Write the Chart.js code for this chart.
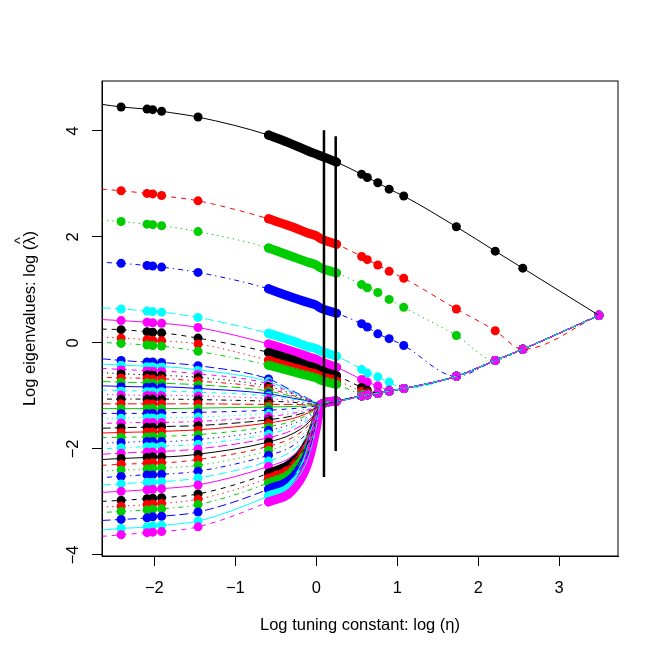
<!DOCTYPE html>
<html>
<head>
<meta charset="utf-8">
<script src="https://cdn.jsdelivr.net/npm/chart.js@4/dist/chart.umd.min.js"></script>
<style>
  html, body { margin: 0; padding: 0; background: #fff; }
  #wrap { width: 660px; height: 659px; }
</style>
</head>
<body>
<div id="wrap"><canvas id="eigChart" width="660" height="659"></canvas></div>
<script>
// log tuning constant positions (left part shared by every curve, right part = pooled path)
const leftX = [-2.65, -2.41, -2.09, -2.02, -1.91, -1.46, -0.59, -0.3, -0.1, 0, 0.05];
const poolX = [0.25, 0.56, 0.63, 0.76, 0.9, 1.08, 1.73, 2.21, 2.55, 3.49];
const pooled = [-1.10, -1.00, -0.98, -0.95, -0.91, -0.86, -0.63, -0.33, -0.12, 0.52];

// log eigenvalues, largest first; a curve joins the pooled path where its list stops
const lam01 = [4.50, 4.45, 4.41, 4.40, 4.37, 4.26, 3.92, 3.75, 3.62, 3.56, 3.53, 3.41, 3.18, 3.12, 3.02, 2.90, 2.77, 2.19, 1.73, 1.41, 0.52];
const lam02 = [2.90, 2.87, 2.82, 2.81, 2.78, 2.68, 2.34, 2.19, 2.07, 2.02, 1.97, 1.86, 1.63, 1.57, 1.47, 1.35, 1.22, 0.64, 0.23];
const lam03 = [2.31, 2.29, 2.24, 2.23, 2.21, 2.10, 1.79, 1.63, 1.52, 1.47, 1.42, 1.32, 1.10, 1.04, 0.95, 0.82, 0.67, 0.14];
const lam04 = [1.52, 1.50, 1.46, 1.45, 1.43, 1.33, 1.02, 0.86, 0.76, 0.71, 0.66, 0.56, 0.36, 0.30, 0.17, 0.08, -0.05];
const lam05 = [0.66, 0.64, 0.60, 0.59, 0.58, 0.48, 0.18, 0.04, -0.07, -0.11, -0.15, -0.25, -0.50, -0.57, -0.64, -0.74];
const lam06 = [0.44, 0.42, 0.39, 0.38, 0.37, 0.29, -0.02, -0.16, -0.26, -0.31, -0.35, -0.46, -0.69, -0.74, -0.81, -0.89];
const lam07 = [0.26, 0.25, 0.21, 0.20, 0.19, 0.09, -0.18, -0.32, -0.43, -0.48, -0.52, -0.62, -0.84, -0.89];
const lam08 = [0.11, 0.09, 0.06, 0.05, 0.04, -0.02, -0.33, -0.46, -0.55, -0.59, -0.63, -0.71, -0.91, -0.94];
const lam09 = [0.01, -0.01, -0.04, -0.05, -0.06, -0.16, -0.42, -0.54, -0.62, -0.66, -0.70, -0.78, -0.97];
const lam10 = [-0.30, -0.33, -0.36, -0.36, -0.37, -0.43, -0.68, -0.90, -1.05, -1.13, -1.17];
const lam11 = [-0.40, -0.42, -0.44, -0.45, -0.45, -0.51, -0.73, -0.92, -1.06, -1.13, -1.17];
const lam12 = [-0.48, -0.50, -0.52, -0.52, -0.53, -0.58, -0.77, -0.94, -1.06, -1.13, -1.17];
const lam13 = [-0.56, -0.58, -0.60, -0.60, -0.61, -0.65, -0.82, -0.96, -1.07, -1.13, -1.17];
const lam14 = [-0.65, -0.66, -0.67, -0.68, -0.68, -0.72, -0.86, -0.99, -1.08, -1.14, -1.17];
const lam15 = [-0.73, -0.74, -0.75, -0.75, -0.76, -0.79, -0.91, -1.01, -1.09, -1.14, -1.17];
const lam16 = [-0.81, -0.82, -0.83, -0.83, -0.83, -0.86, -0.96, -1.04, -1.10, -1.14, -1.17];
const lam17 = [-0.89, -0.90, -0.91, -0.91, -0.91, -0.93, -1.00, -1.06, -1.11, -1.15, -1.17];
const lam18 = [-0.97, -0.98, -0.99, -0.99, -0.99, -1.00, -1.05, -1.09, -1.13, -1.15, -1.17];
const lam19 = [-1.06, -1.06, -1.06, -1.06, -1.06, -1.07, -1.10, -1.12, -1.15, -1.16, -1.17];
const lam20 = [-1.15, -1.15, -1.15, -1.15, -1.15, -1.15, -1.16, -1.16, -1.17, -1.17, -1.17];
const lam21 = [-1.24, -1.24, -1.24, -1.24, -1.24, -1.23, -1.21, -1.20, -1.19, -1.18, -1.17];
const lam22 = [-1.33, -1.33, -1.33, -1.33, -1.32, -1.31, -1.27, -1.24, -1.21, -1.19, -1.17];
const lam23 = [-1.43, -1.42, -1.41, -1.41, -1.41, -1.40, -1.33, -1.29, -1.24, -1.20, -1.17];
const lam24 = [-1.52, -1.51, -1.50, -1.50, -1.50, -1.48, -1.39, -1.33, -1.26, -1.21, -1.17];
const lam25 = [-1.61, -1.60, -1.59, -1.59, -1.58, -1.56, -1.45, -1.38, -1.29, -1.22, -1.17];
const lam26 = [-1.70, -1.69, -1.68, -1.68, -1.67, -1.64, -1.51, -1.43, -1.32, -1.23, -1.17];
const lam27 = [-1.79, -1.78, -1.77, -1.76, -1.76, -1.73, -1.58, -1.48, -1.35, -1.24, -1.17];
const lam28 = [-1.89, -1.88, -1.86, -1.86, -1.86, -1.82, -1.65, -1.53, -1.39, -1.26, -1.17];
const lam29 = [-2.00, -1.98, -1.96, -1.96, -1.95, -1.91, -1.72, -1.59, -1.43, -1.27, -1.17];
const lam30 = [-2.10, -2.08, -2.06, -2.06, -2.05, -2.00, -1.79, -1.65, -1.47, -1.29, -1.17];
const lam31 = [-2.20, -2.18, -2.16, -2.15, -2.15, -2.10, -1.87, -1.72, -1.51, -1.31, -1.17];
const lam32 = [-2.31, -2.29, -2.27, -2.26, -2.26, -2.20, -1.95, -1.79, -1.56, -1.33, -1.17];
const lam33 = [-2.42, -2.40, -2.38, -2.37, -2.36, -2.31, -2.03, -1.86, -1.61, -1.35, -1.17];
const lam34 = [-2.54, -2.52, -2.49, -2.49, -2.48, -2.42, -2.12, -1.95, -1.66, -1.37, -1.17];
const lam35 = [-2.68, -2.66, -2.63, -2.63, -2.62, -2.55, -2.23, -2.04, -1.73, -1.40, -1.17];
const lam36 = [-2.82, -2.80, -2.77, -2.76, -2.75, -2.68, -2.33, -2.14, -1.80, -1.42, -1.17];
const lam37 = [-2.99, -2.97, -2.94, -2.93, -2.92, -2.85, -2.46, -2.26, -1.88, -1.46, -1.17];
const lam38 = [-3.10, -3.08, -3.05, -3.04, -3.03, -2.95, -2.55, -2.35, -1.94, -1.48, -1.17];
const lam39 = [-3.20, -3.18, -3.15, -3.14, -3.13, -3.05, -2.64, -2.43, -2.00, -1.51, -1.17];
const lam40 = [-3.35, -3.33, -3.30, -3.28, -3.27, -3.19, -2.76, -2.55, -2.08, -1.54, -1.17];
const lam41 = [-3.53, -3.50, -3.47, -3.45, -3.44, -3.36, -2.89, -2.68, -2.17, -1.58, -1.17];
const lam42 = [-3.65, -3.62, -3.58, -3.57, -3.56, -3.47, -3.00, -2.79, -2.25, -1.61, -1.17];

const xTicks = [-2, -1, 0, 1, 2, 3];
const yTicks = [-4, -2, 0, 2, 4];

// the two vertical reference segments
const vlineX = [0.095, 0.24];
const vlineTop = [4.01, 3.90];
const vlineBottom = [-2.53, -2.04];

// curves whose dense run of points (-0.6 .. 0.25) shows as a thick band
const bandCurves = [1, 2, 3, 4, 5, 6, 7, 8, 9, 37, 38, 39, 40, 41, 42];

const curves = [lam01, lam02, lam03, lam04, lam05, lam06, lam07, lam08, lam09, lam10,
  lam11, lam12, lam13, lam14, lam15, lam16, lam17, lam18, lam19, lam20,
  lam21, lam22, lam23, lam24, lam25, lam26, lam27, lam28, lam29, lam30,
  lam31, lam32, lam33, lam34, lam35, lam36, lam37, lam38, lam39, lam40,
  lam41, lam42];

const palette = ["#000000", "#FF0000", "#00CD00", "#0000FF", "#00FFFF", "#FF00FF"];
const dashes = [[], [5, 5], [1.3, 4], [1.3, 4, 5, 4], [9, 4]];
const FONT = "'Liberation Sans', Arial, sans-serif";
const FONT_SIZE = 16.5;

const allX = leftX.concat(poolX);
const pointIdx = [1, 2, 3, 4, 5, 6, 11, 12, 13, 14, 15, 16, 17, 18, 19, 20];
const bandIdx = [6, 7, 8, 9, 10, 11];

function fmt(v) {
  return v < 0 ? "\u2212" + Math.abs(v) : String(v);
}

const markSets = [];
const lineSets = [];

curves.forEach((vals, i) => {
  const full = vals.concat(pooled.slice(vals.length - leftX.length));
  const pts = allX.map((x, k) => ({ x, y: full[k] }));
  const col = palette[i % 6];
  markSets.push({
    data: pointIdx.map((k) => pts[k]),
    showLine: false,
    pointRadius: 4.5,
    pointBackgroundColor: col,
    pointBorderWidth: 0,
  });
  if (bandCurves.includes(i + 1)) {
    markSets.push({
      data: bandIdx.map((k) => pts[k]),
      showLine: true,
      borderColor: col,
      borderWidth: 9,
      borderCapStyle: "round",
      borderJoinStyle: "round",
      pointRadius: 0,
      cubicInterpolationMode: "monotone",
    });
  }
  lineSets.push({
    data: pts,
    showLine: true,
    borderColor: col,
    borderWidth: 1,
    borderDash: dashes[i % 5],
    pointRadius: 0,
    cubicInterpolationMode: "monotone",
  });
});

const vlineSets = vlineX.map((x, i) => ({
  data: [{ x, y: vlineTop[i] }, { x, y: vlineBottom[i] }],
  showLine: true,
  borderColor: "#000",
  borderWidth: 2.5,
  pointRadius: 0,
}));

// later datasets get a lower order so they are painted on top
let seq = 0;
const datasets = markSets.concat(lineSets, vlineSets).map((d) => {
  seq += 1;
  return Object.assign(d, { order: -seq });
});

const yTitleParts = ["Log eigenvalues: log (", "\u03bb", ")"];

const framePlugin = {
  id: "frame",
  afterDraw(chart) {
    const { ctx, chartArea: a } = chart;
    ctx.save();
    ctx.strokeStyle = "#000";
    ctx.lineWidth = 1;
    ctx.strokeRect(a.left, a.top, a.right - a.left, a.bottom - a.top);

    // y title with a hat over lambda
    ctx.font = `${FONT_SIZE}px ${FONT}`;
    ctx.fillStyle = "#000";
    const widths = yTitleParts.map((p) => ctx.measureText(p).width);
    const total = widths.reduce((s, w) => s + w, 0);
    ctx.translate(30, (a.top + a.bottom) / 2);
    ctx.rotate(-Math.PI / 2);
    ctx.textBaseline = "middle";
    ctx.textAlign = "left";
    let u = -total / 2;
    ctx.fillText(yTitleParts.join(""), u, 0);
    u += widths[0] + widths[1] / 2;
    ctx.textAlign = "center";
    ctx.font = `${FONT_SIZE - 2}px ${FONT}`;
    ctx.fillText("^", u, -9);
    ctx.restore();
  },
};

new Chart(document.getElementById("eigChart"), {
  type: "scatter",
  data: { datasets },
  plugins: [framePlugin],
  options: {
    responsive: false,
    animation: false,
    events: [],
    layout: { padding: { left: 0, top: 81, right: 42, bottom: 0 } },
    plugins: { legend: { display: false }, tooltip: { enabled: false } },
    scales: {
      x: {
        type: "linear",
        min: -2.646,
        max: 3.726,
        afterBuildTicks: (s) => { s.ticks = xTicks.map((v) => ({ value: v })); },
        afterFit: (s) => { s.height = 103; },
        ticks: {
          callback: (v) => fmt(v),
          font: { family: FONT, size: FONT_SIZE },
          color: "#000",
          padding: 13,
          maxRotation: 0,
          autoSkip: false,
        },
        grid: { drawOnChartArea: false, drawTicks: true, tickLength: 10, color: "#000" },
        border: { display: true, color: "#000", width: 1 },
        title: {
          display: true,
          text: "Log tuning constant: log (\u03b7)",
          font: { family: FONT, size: FONT_SIZE },
          color: "#000",
          padding: { top: 0, bottom: 24 },
        },
      },
      y: {
        type: "linear",
        min: -4.02,
        max: 4.94,
        afterBuildTicks: (s) => { s.ticks = yTicks.map((v) => ({ value: v })); },
        afterFit: (s) => { s.width = 102; },
        ticks: {
          callback: (v) => fmt(v),
          font: { family: FONT, size: FONT_SIZE },
          color: "#000",
          padding: 9,
          minRotation: 90,
          maxRotation: 90,
          crossAlign: "center",
          autoSkip: false,
        },
        grid: { drawOnChartArea: false, drawTicks: true, tickLength: 10, color: "#000" },
        border: { display: true, color: "#000", width: 1 },
      },
    },
  },
});
</script>
</body>
</html>
